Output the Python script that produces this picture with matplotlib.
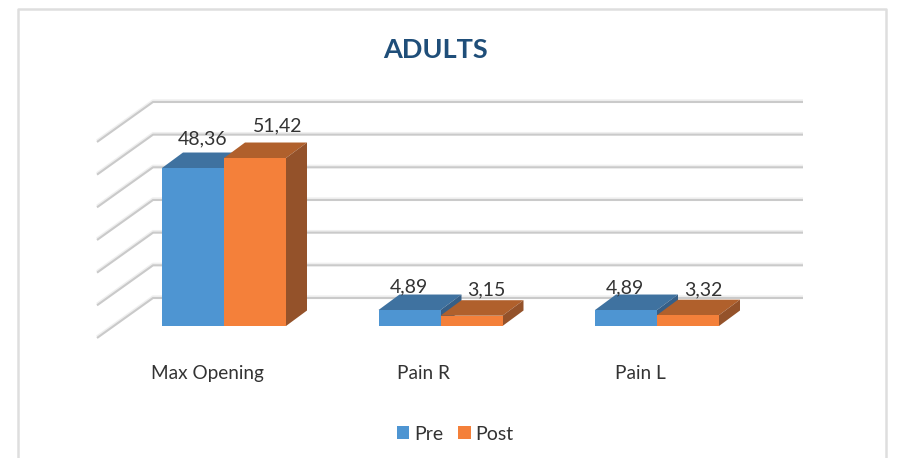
import numpy as np
import matplotlib
matplotlib.use('Agg')
from matplotlib import pyplot as plt
from matplotlib.patches import Polygon, Rectangle

categories = ['Max Opening', 'Pain R', 'Pain L']
pre = [48.36, 4.89, 4.89]
post = [51.42, 3.15, 3.32]
pre_labels = ['48,36', '4,89', '4,89']
post_labels = ['51,42', '3,15', '3,32']
grid_values = [0, 10, 20, 30, 40, 50, 60]

plt.rcParams['font.family'] = ['Lato', 'DejaVu Sans']

W, H = 897, 458
fig = plt.figure(figsize=(W/100, H/100), dpi=100)
fig.patch.set_facecolor('white')

# axes box: left/right in px, baseline of the bars at y=326
left, right, top, base = 97, 803, 90, 326
ax = fig.add_axes([left/W, 1-base/H, (right-left)/W, (base-top)/H])
ax.patch.set_alpha(0)
for s in ax.spines.values():
    s.set_visible(False)

px_x = 216.5   # px per category
px_y = 3.267   # px per value unit
x0 = 224       # px of first category centre
ax.set_xlim((left-x0)/px_x, (right-x0)/px_x)
ax.set_ylim(0, (base-top)/px_y)

x = np.arange(len(categories))
bw = 62/px_x

# walls and floor grid
floor_dx, floor_dy = 56/px_x, 40/px_y
front_y = -12/px_y
xmin = ax.get_xlim()[0]
xmax = ax.get_xlim()[1]
for v in grid_values:
    xs = [xmin, xmin+floor_dx, xmax]
    ys = [v+front_y, v+front_y+floor_dy, v+front_y+floor_dy]
    ax.plot(xs, np.array(ys)+0.35, color='#efefef', lw=2.2, clip_on=False, zorder=1,
            solid_capstyle='butt', solid_joinstyle='round')
    ax.plot(xs, ys, color='#cacaca', lw=1.5, clip_on=False, zorder=1.1,
            solid_capstyle='butt', solid_joinstyle='round')

# 3D depth of the bars
dx, dy = 21/px_x, 15.5/px_y

def bar3d(xc, val, face, top_c, side_c, z):
    ax.bar(xc, val, bw, color=face, zorder=z+0.2, linewidth=0)
    l, r = xc-bw/2, xc+bw/2
    ax.add_patch(Polygon([[l, val], [r, val], [r+dx, val+dy], [l+dx, val+dy]],
                         closed=True, fc=top_c, ec='none', zorder=z, clip_on=False))
    ax.add_patch(Polygon([[r, 0], [r+dx, dy], [r+dx, val+dy], [r, val]],
                         closed=True, fc=side_c, ec='none', zorder=z, clip_on=False))

for i in x:
    bar3d(i-bw/2, pre[i], '#4E95D2', '#3F72A0', '#365F87', 2+i*2)
    bar3d(i+bw/2, post[i], '#F4803A', '#B0602C', '#94522A', 3+i*2)

# data labels, offsets in px from bar top centre
pre_off = [(9.5, 29), (-1, 23), (-1, 22)]
post_off = [(23, 32), (15, 26), (15, 25)]
for i in x:
    ax.annotate(pre_labels[i], (i-bw/2, pre[i]), xytext=(pre_off[i][0]*0.72, pre_off[i][1]*0.72),
                textcoords='offset points', ha='center', va='center',
                fontsize=14, color='#333333', zorder=20)
    ax.annotate(post_labels[i], (i+bw/2, post[i]), xytext=(post_off[i][0]*0.72, post_off[i][1]*0.72),
                textcoords='offset points', ha='center', va='center',
                fontsize=14, color='#333333', zorder=20)

ax.set_yticks([])
ax.set_xticks(x-17/px_x)
ax.set_xticklabels(categories, fontsize=13.7, color='#333333')
ax.tick_params(axis='x', length=0, pad=28)

# legend
handles = [Rectangle((0, 0), 1, 1, fc='#4E95D2'), Rectangle((0, 0), 1, 1, fc='#F4803A')]
fig.legend(handles, ['Pre', 'Post'], loc='center', bbox_to_anchor=(455.5/W, 1-434/H), ncol=2,
           frameon=False, fontsize=14, labelcolor='#333333', handlelength=0.62, handleheight=0.62,
           handletextpad=0.26, columnspacing=0.77, borderpad=0)

fig.text(435.5/W, 1-50/H, 'ADULTS', ha='center', va='center', fontsize=19.5, fontweight='bold',
         color='#1F4E79')

# outer frame, open at the bottom
fig.add_artist(plt.Line2D(np.array([18, 18, 886, 886])/W, 1-np.array([458, 9, 9, 458])/H,
                          color='#dedede', lw=1.8))

plt.savefig('out.png', dpi=100)
